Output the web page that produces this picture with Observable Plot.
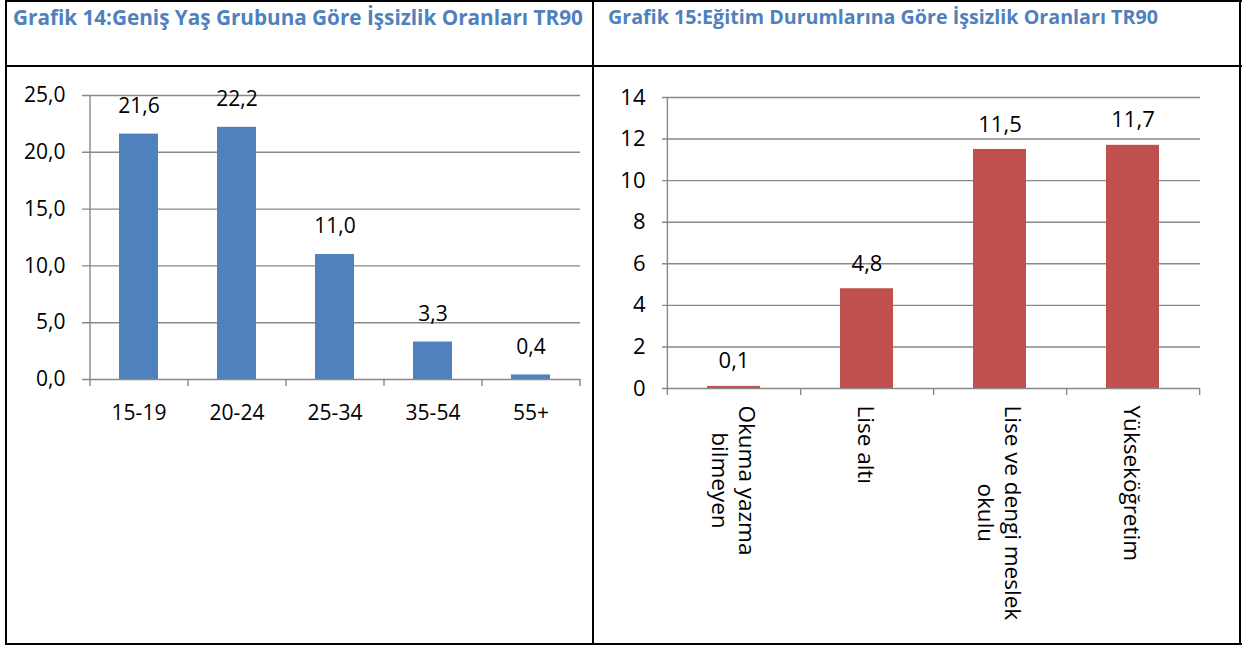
<!DOCTYPE html>
<html><head><meta charset="utf-8">
<script src="https://cdn.jsdelivr.net/npm/d3@7"></script>
<script src="https://cdn.jsdelivr.net/npm/@observablehq/plot@0.6"></script>
<style>
body{margin:0;background:#fff;}
#page{position:relative;width:1242px;height:648px;overflow:hidden;background:#fff;font-family:"Open Sans",sans-serif;}
.b{position:absolute;background:#000;}
.title{position:absolute;font-weight:bold;color:#4F81BD;font-size:16px;white-space:nowrap;line-height:1;}
.chart{position:absolute;}
</style></head><body>
<div id="page">
  <div class="title" id="t1" style="left:13px;top:7px"></div>
  <div class="title" id="t2" style="left:608px;top:7px"></div>
  <div class="chart" id="c1" style="left:6px;top:68px"></div>
  <div class="chart" id="c2" style="left:595px;top:68px"></div>
  <div class="b" style="left:5px;top:0;width:1237px;height:2px"></div>
  <div class="b" style="left:5px;top:65px;width:1237px;height:2px"></div>
  <div class="b" style="left:5px;top:643px;width:1237px;height:2px"></div>
  <div class="b" style="left:5px;top:0;width:2px;height:645px"></div>
  <div class="b" style="left:592px;top:0;width:2px;height:645px"></div>
  <div class="b" style="left:1239px;top:0;width:2px;height:645px"></div>
</div>
<script>
const titles = [
  "Grafik 14:Geniş Yaş Grubuna Göre İşsizlik Oranları TR90",
  "Grafik 15:Eğitim Durumlarına Göre İşsizlik Oranları TR90"
];
const ageCats = ["15-19", "20-24", "25-34", "35-54", "55+"];
const ageVals = [21.6, 22.2, 11.0, 3.3, 0.4];
const ageTicks = [0, 5, 10, 15, 20, 25];
const eduCats = ["Okuma yazma\nbilmeyen", "Lise altı", "Lise ve dengi meslek\nokulu", "Yükseköğretim"];
const eduVals = [0.1, 4.8, 11.5, 11.7];
const eduTicks = [0, 2, 4, 6, 8, 10, 12, 14];

const comma1 = d => d.toFixed(1).replace(".", ",");
const GRID = "#898989";

document.getElementById("t1").textContent = titles[0];
document.getElementById("t2").textContent = titles[1];

function barChart(o) {
  const data = o.cats.map((c, i) => ({cat: c, val: o.vals[i]}));
  const step = (o.width - o.ml - o.mr) / o.cats.length;
  const ymax = o.ticks[o.ticks.length - 1];
  const marks = [
    Plot.ruleY(o.ticks.slice(1), {y: d => d, stroke: GRID, strokeWidth: 1.4, insetLeft: -o.yTick}),
    Plot.barY(data, {x: "cat", y: "val", fill: o.fill}),
    Plot.ruleY([0], {stroke: GRID, strokeWidth: 1.4, insetLeft: -o.yTick}),
    Plot.ruleX([o.cats[0]], {x: d => d, dx: -step / 2, y1: ymax, y2: 0, insetBottom: -o.xTick, stroke: GRID, strokeWidth: 1.4}),
    Plot.ruleX(o.cats, {x: d => d, dx: step / 2, y1: 0, y2: 0, insetBottom: -o.xTick, stroke: GRID, strokeWidth: 1.4}),
    Plot.text(o.ticks, {y: d => d, frameAnchor: "left", textAnchor: "end", dx: -o.yPad, text: o.yFmt, lineAnchor: "middle", fill: "#000"}),
    Plot.text(data, {x: "cat", y: "val", text: d => comma1(d.val), dy: o.labelDy, lineAnchor: "middle", fill: "#000"}),
    o.rotate
      ? Plot.text(o.cats, {x: d => d, frameAnchor: "bottom", text: d => d, rotate: 90, textAnchor: "start", lineAnchor: "middle", lineHeight: 1.2, dy: o.xPad, fill: "#000", fontSize: o.xFont})
      : Plot.text(o.cats, {x: d => d, frameAnchor: "bottom", text: d => d, textAnchor: "middle", lineAnchor: "top", dy: o.xPad, fill: "#000"})
  ];
  return Plot.plot({
    width: o.width, height: o.height,
    marginLeft: o.ml, marginRight: o.mr, marginTop: o.mt, marginBottom: o.mb,
    style: {fontFamily: "'Open Sans', sans-serif", fontSize: o.font + "px", background: "transparent", color: "#000"},
    x: {domain: o.cats, paddingInner: 0.6, paddingOuter: 0.3, axis: null},
    y: {domain: [0, ymax], axis: null},
    marks
  });
}

const c1 = barChart({
  cats: ageCats, vals: ageVals, ticks: ageTicks, yFmt: comma1, fill: "#4F81BD",
  width: 586, height: 380, ml: 84, mr: 12, mt: 27, mb: 69, font: 21,
  labelDy: -28, yTick: 8, xTick: 7, yPad: 25, xPad: 26, rotate: false
});
const c2 = barChart({
  cats: eduCats, vals: eduVals, ticks: eduTicks, yFmt: d => String(d), fill: "#C0504D",
  width: 644, height: 575, ml: 72, mr: 39, mt: 29, mb: 255, font: 22, xFont: 22.5,
  labelDy: -25, yTick: 5, xTick: 7, yPad: 22, xPad: 17, rotate: true
});
document.getElementById("c1").appendChild(c1);
document.getElementById("c2").appendChild(c2);

// center wrapped lines of the rotated labels within their block
c2.querySelectorAll("text").forEach(t => {
  const spans = t.querySelectorAll("tspan");
  if (spans.length < 2) return;
  let w = 0;
  spans.forEach(s => { w = Math.max(w, s.getComputedTextLength()); });
  t.setAttribute("text-anchor", "middle");
  t.style.textAnchor = "middle";
  spans.forEach(s => s.setAttribute("x", w / 2));
});

// fit title widths to the reference
[["t1", 570], ["t2", 550]].forEach(([id, target]) => {
  const el = document.getElementById(id);
  const w = el.getBoundingClientRect().width;
  el.style.fontSize = (16 * target / w).toFixed(2) + "px";
});
</script>
</body></html>
